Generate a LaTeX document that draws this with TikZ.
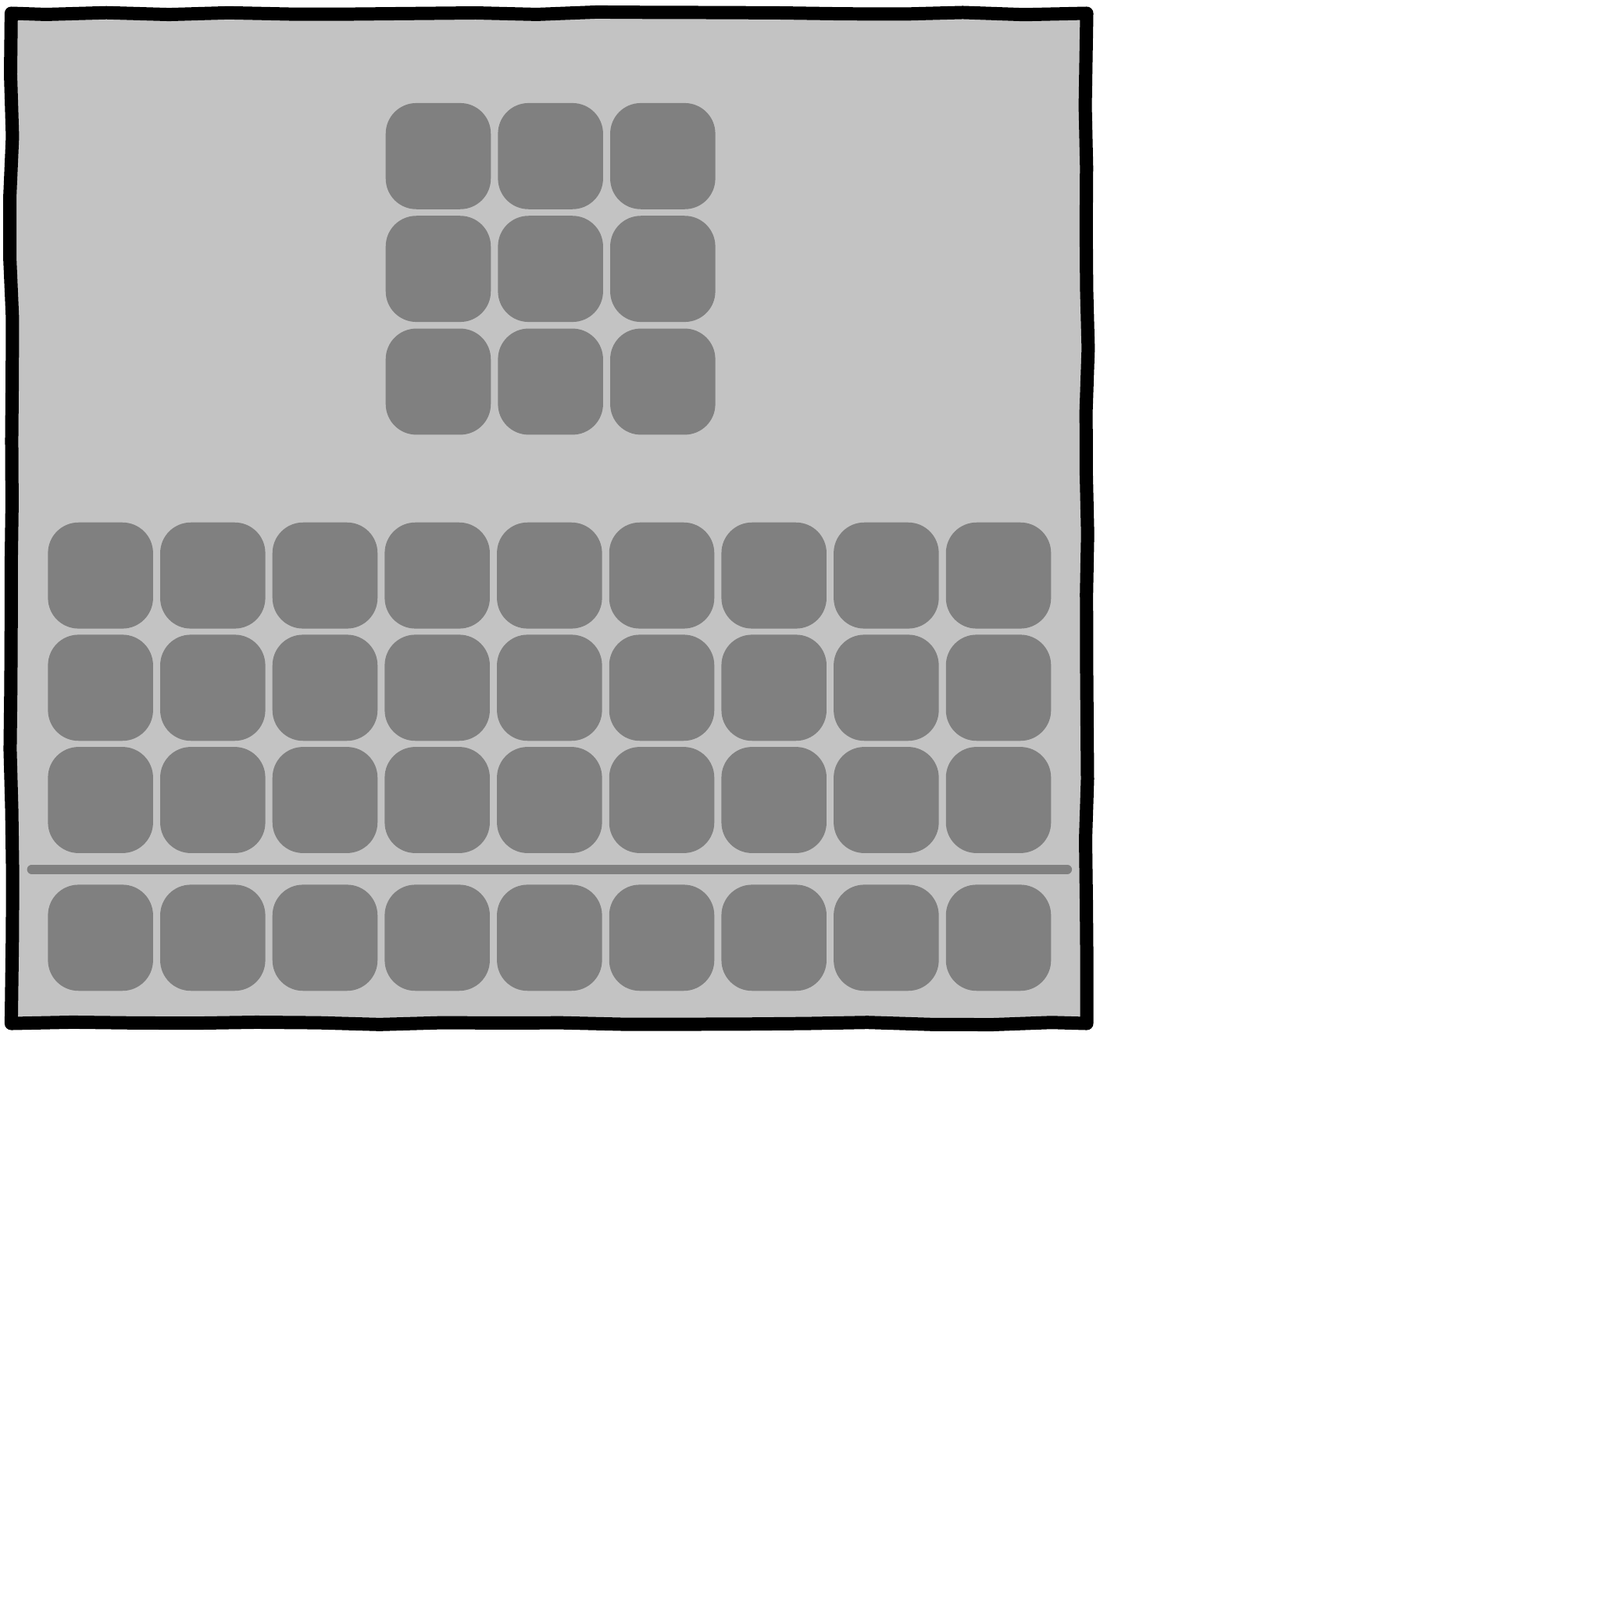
\documentclass[tikz,border=0pt]{standalone}
\usepackage{tikz}
\usetikzlibrary{decorations.pathmorphing}
\definecolor{panelgray}{HTML}{C3C3C3}
\definecolor{tilegray}{HTML}{808080}
\tikzset{
  panel/.style={fill=panelgray, draw=black, line width=13pt, line join=round,
    decorate, decoration={random steps, segment length=60pt, amplitude=1.5pt}},
  tile/.style={fill=tilegray, draw=none, rounded corners=30pt},
  divider/.style={draw=tilegray, line width=9pt, line cap=round}
}
\newcommand{\seat}[2]{%
  \fill[tile] (#1,#2) rectangle ++(103,104);
}

\begin{document}
\begin{tikzpicture}[x=1pt, y=-1pt]
    \useasboundingbox (0,0) rectangle (1568,1568);
    % outer panel
    \draw[panel] (11,13) rectangle (1065,1003);

    % small block, 3x3
    \foreach \c in {0,1,2} {
      \foreach \r in {0,1,2} {
        \seat{378+\c*110}{101+\r*110.5}
      }
    }

    % main block, 9x3
    \foreach \c in {0,...,8} {
      \foreach \r in {0,1,2} {
        \seat{47+\c*110}{512+\r*110}
      }
    }

    % divider and last row
    \draw[divider] (31,852) -- (1046,852);
    \foreach \c in {0,...,8} {
      \seat{47+\c*110}{867}
    }
\end{tikzpicture}
\end{document}
